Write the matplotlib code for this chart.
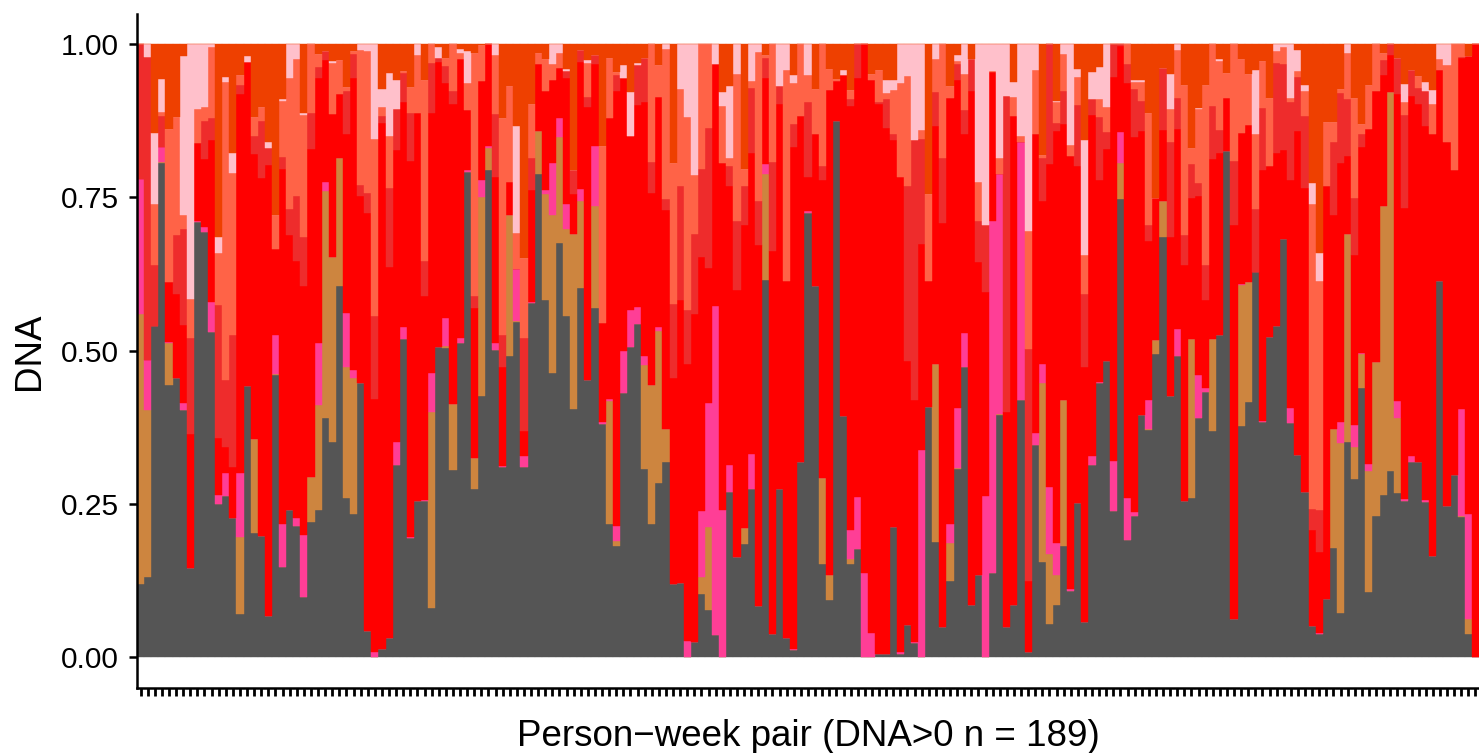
import numpy as np
import matplotlib
matplotlib.use("Agg")
import matplotlib.pyplot as plt

plt.rcParams['font.family'] = ['Liberation Sans', 'DejaVu Sans']

# Share of each component per person-week pair (bottom to top of each bar)
grey_share = [
    .12, .13, .54, .805, .445, .456, .403, .145, .711, .695,
    .531, .25, .263, .227, .071, .443, .202, .198, .068, .46,
    .147, .241, .215, .099, .221, .241, .391, .351, .606, .26,
    .234, .448, .043, 0, .013, .032, .314, .519, .195, .255,
    .255, .08, .506, .505, .305, .513, .791, .275, .426, .794,
    .502, .31, .492, .547, .31, .578, .788, .583, .464, .675,
    .556, .405, .603, .452, .569, .381, .218, .181, .431, .506,
    .544, .307, .218, .284, .318, .119, .122, 0, .025, .103,
    .078, .036, 0, .269, .164, .185, .275, .083, .616, .038,
    .275, .031, .012, .318, .725, .606, .153, .093, .875, .394,
    .153, .176, 0, 0, .006, .005, .212, .006, .052, .023,
    0, .409, .188, .049, .125, .307, .474, .086, .135, 0,
    .138, .395, .049, .086, .419, .008, .346, .156, .054, .085,
    .182, .109, .251, .057, .314, .447, .484, .238, .747, .192,
    .231, .396, .37, .495, .686, .426, .492, .255, .26, .39,
    .432, .369, .525, .825, .062, .377, .416, .629, .383, .523,
    .541, .682, .382, .33, .269, .051, .038, .095, .179, .073,
    .351, .291, .44, .107, .231, .265, .304, .268, .255, .319,
    .319, .254, .166, .614, .247, .297, .229, .038, 0,
]
peru_share = [
    .44, .27, 0, .002, .069, 0, 0, 0, 0, 0,
    0, 0, 0, 0, .126, 0, .154, 0, 0, .002,
    0, 0, 0, 0, .073, .171, .37, .302, .208, .214,
    .221, 0, 0, 0, 0, 0, 0, 0, 0, 0,
    0, .32, 0, .002, .108, 0, 0, .05, .324, .036,
    0, 0, .229, .002, 0, 0, .07, .172, .258, .174,
    .143, .285, .142, 0, .167, 0, .20, .008, 0, 0,
    0, .17, .226, .248, .055, 0, 0, 0, 0, .028,
    .134, 0, 0, 0, 0, .026, 0, 0, .172, 0,
    0, 0, 0, 0, 0, 0, .139, .042, 0, 0,
    .008, 0, 0, 0, 0, 0, 0, 0, 0, 0,
    0, 0, .291, 0, .061, .002, 0, 0, 0, 0,
    0, .002, 0, 0, 0, 0, 0, .291, .115, .049,
    .237, 0, 0, 0, 0, 0, 0, 0, .06, 0,
    0, 0, .002, .023, .059, 0, 0, 0, .259, 0,
    0, .15, 0, 0, 0, .23, .196, 0, 0, 0,
    0, 0, 0, 0, 0, 0, 0, 0, .193, .276,
    .339, .052, .054, .197, .25, .471, .618, .122, 0, 0,
    0, 0, 0, 0, 0, 0, .002, .024, 0,
]
hotpink_share = [
    .22, .08, 0, .025, .002, 0, .011, 0, .002, .007,
    .049, .015, .037, 0, .104, 0, 0, 0, 0, .064,
    .07, 0, .012, .10, 0, .101, .014, 0, 0, .088,
    .013, 0, 0, .008, 0, 0, .038, .02, .002, 0,
    .002, .063, 0, .046, 0, .007, .003, 0, .029, .004,
    .01, .002, 0, .085, .018, .002, 0, .007, .085, .03,
    .04, 0, .018, 0, .098, .002, .003, .026, .068, .061,
    .028, .015, 0, .007, 0, 0, 0, .026, 0, .107,
    .202, .537, .24, .045, 0, 0, .056, 0, .016, 0,
    0, 0, .002, 0, .003, 0, 0, 0, 0, 0,
    .047, .086, .138, .039, 0, 0, 0, .002, 0, .002,
    .338, 0, 0, 0, .032, .097, .055, 0, 0, .263,
    .574, .391, 0, 0, .421, 0, .02, .032, .109, .052,
    0, .002, 0, 0, .014, .002, 0, .083, .05, .068,
    .006, 0, .047, 0, 0, 0, .044, 0, 0, .071,
    .008, 0, 0, 0, 0, .002, 0, 0, .002, 0,
    0, 0, .024, 0, 0, 0, .002, 0, 0, .034,
    0, .036, .003, .011, 0, 0, 0, .028, .003, .01,
    0, .002, 0, 0, 0, 0, .174, .172, 0,
]
red_share = [
    0, 0, 0, 0, .098, .137, .128, .219, .128, .112,
    .264, .092, .043, .083, .618, .528, .465, .583, .735, .14,
    .58, .447, .42, .406, .535, .432, .199, .233, .104, .291,
    .476, .304, .682, .413, .859, .605, .476, .367, .613, .633,
    .333, .425, .465, .384, .49, .455, .099, .244, .161, .166,
    .272, .161, .055, 0, .041, .182, .11, .161, .134, .082,
    .206, .065, .208, .446, .134, .163, .458, .709, .446, .284,
    .329, .413, .314, .375, .356, .337, .46, .453, .535, .415,
    .221, .395, .567, .454, .435, .494, .492, .59, .141, .625,
    .628, .583, .819, .565, .056, .248, .487, .79, .065, .556,
    .691, .683, .862, .903, .897, .859, .632, .776, .432, .394,
    .336, .205, .387, .659, .695, .536, .324, .838, .509, .332,
    .243, 0, .351, .797, 0, .116, .488, .266, .527, .673,
    .451, .707, .55, .416, .557, .33, .345, .626, .14, .677,
    .611, .463, .26, .231, .115, .259, .326, .385, .23, .291,
    .143, .293, .298, .087, .643, .246, .256, 0, .409, .278,
    .282, .145, .372, .529, .496, .157, .131, .674, .349, .424,
    .127, .277, .336, .547, .442, .214, .06, .50, .474, .587,
    .584, .611, .687, .344, .593, .497, .572, .747, 1.0,
]
firebrick_share = [
    .22, .49, .10, .05, 0, .096, .157, .156, 0, .061,
    .036, .218, .109, .216, .015, 0, .029, .094, .027, 0,
    .019, .043, .106, .081, .059, .018, .015, 0, 0, .071,
    .04, .019, .033, .135, .011, .128, .066, .047, .078, 0,
    .057, .081, .006, .027, .021, 0, 0, .021, 0, 0,
    .102, .053, 0, 0, .151, .053, 0, 0, 0, 0,
    .011, .039, .019, .016, .015, 0, 0, .026, 0, 0,
    .065, .072, .05, 0, .018, .121, .186, .087, .13, .144,
    .229, 0, 0, .034, .112, .063, .106, .072, .032, .145,
    .028, 0, .036, 0, .122, 0, .023, 0, 0, 0,
    .012, .055, 0, 0, .003, .047, .009, 0, .284, .424,
    .172, 0, .056, .106, 0, .026, .039, .051, .068, .11,
    0, 0, .516, 0, 0, .379, 0, .07, .195, .012,
    .054, 0, .10, .119, .026, .102, .028, .053, .003, .031,
    .079, .049, .026, 0, .101, .156, .05, .049, .055, .021,
    .057, .087, .037, 0, .105, 0, 0, .102, .102, 0,
    .146, .141, .127, .088, .118, .034, .069, 0, .12, .114,
    .094, .093, .021, 0, 0, .024, .018, .059, .153, .042,
    .026, .057, 0, 0, 0, 0, .002, 0, 0,
]
tomato_share = [
    0, 0, .10, .007, .25, .192, .022, .065, .055, .023,
    .115, .084, .486, .264, .016, 0, .031, .023, 0, .055,
    .092, .213, .223, .199, .112, .021, 0, .083, .056, .006,
    .005, .219, .231, .29, .015, .086, 0, .003, .042, .094,
    .295, .031, 0, .013, .076, .011, .044, .396, .059, 0,
    .096, .353, .155, .058, .131, .088, .018, .052, .026, .025,
    0, 0, 0, .055, 0, .288, .098, .005, 0, 0,
    0, 0, .192, .052, .245, .23, .159, .316, .096, .203,
    .136, 0, .092, .013, .24, .029, .011, .242, .005, .192,
    0, .344, .067, .117, .044, .073, .198, .035, .003, 0,
    .014, 0, 0, .009, .052, .01, .072, .152, .18, 0,
    .014, .142, .054, .186, .019, .005, .059, 0, .064, 0,
    .002, .027, 0, .031, .011, .192, .104, .005, 0, .034,
    .06, .018, .046, .064, 0, .03, .04, 0, 0, .032,
    .012, .03, .183, 0, 0, .054, .078, .245, .027, .121,
    .294, .101, .113, .041, .19, .121, .083, .123, .077, .111,
    .02, .027, .007, .01, .041, .497, .374, .104, .032, .006,
    .075, .163, .015, .072, .077, .012, 0, 0, .02, 0,
    .019, 0, .05, .018, .126, .206, .021, 0, 0,
]
pink_share = [
    0, .02, .115, .054, 0, 0, .259, .415, .106, .103,
    .005, .027, .009, .033, 0, .01, 0, 0, .011, 0,
    .002, .056, .024, .002, 0, 0, 0, .004, 0, 0,
    0, .01, .011, .154, .029, .102, .048, 0, 0, .018,
    0, 0, .018, 0, 0, .006, .052, 0, 0, 0,
    .018, 0, 0, .175, 0, 0, 0, 0, .033, .014,
    .004, 0, 0, .005, 0, 0, 0, 0, .021, .071,
    .004, 0, 0, 0, .008, 0, .073, .118, .214, 0,
    0, .032, .023, .117, .049, 0, .06, .013, 0, 0,
    .069, .042, .014, 0, .05, 0, 0, 0, 0, .008,
    0, 0, 0, 0, 0, .021, .017, .064, .052, .157,
    .14, 0, .024, 0, 0, .009, .049, 0, .224, .295,
    .043, .185, .084, .024, .149, .305, .042, 0, 0, .002,
    .016, .164, .013, .188, .044, .052, .103, 0, 0, 0,
    .002, .003, 0, 0, 0, .056, .01, 0, 0, .002,
    0, 0, .002, 0, 0, 0, 0, .104, 0, 0,
    .011, .005, .088, .034, .01, .034, .045, 0, 0, 0,
    .014, 0, 0, 0, 0, 0, 0, 0, .03, 0,
    0, .014, .022, .024, .034, 0, 0, 0, 0,
]
orangered_share = [
    0, 0, .145, .056, .138, .119, .02, 0, 0, 0,
    0, .314, .053, .177, .05, .019, .119, .102, .159, .279,
    .09, 0, 0, .113, 0, .016, .011, .027, .026, .07,
    .011, 0, 0, 0, .073, .047, .058, .044, .07, 0,
    .058, 0, .005, .023, 0, .008, .011, .014, .001, 0,
    0, .121, .069, .133, .349, .097, .014, .025, 0, 0,
    .04, .206, .01, .026, .017, .166, .023, .045, .034, .078,
    .03, .023, 0, .034, 0, .193, 0, 0, 0, 0,
    0, 0, .078, .068, 0, .203, 0, 0, .018, 0,
    0, 0, .05, 0, 0, .073, 0, .04, .057, .042,
    .075, 0, 0, .049, .042, .058, .058, 0, 0, 0,
    0, .244, 0, 0, .068, .018, 0, .025, 0, 0,
    0, 0, 0, .062, 0, 0, 0, .18, 0, .093,
    0, 0, .04, .156, .045, .037, 0, 0, 0, 0,
    .059, .059, .112, .251, .039, .049, 0, .066, .169, .104,
    .066, 0, .025, .047, 0, .024, .049, .042, .027, .088,
    0, 0, 0, .009, .066, .227, .341, .127, .127, .073,
    0, .088, .131, .066, 0, .014, 0, .023, .065, .042,
    .052, .062, .075, 0, 0, 0, 0, .019, 0,
]

y_ticks = [0, 0.25, 0.5, 0.75, 1.0]
y_tick_labels = ["0.00", "0.25", "0.50", "0.75", "1.00"]
x_title = "Person\u2212week pair (DNA>0 n = 189)"
y_title = "DNA"

layers = [grey_share, peru_share, hotpink_share, red_share,
          firebrick_share, tomato_share, pink_share, orangered_share]
colors = ["#555555", "#CD853F", "#FF3E96", "#FF0000",
          "#EE2C2C", "#FF6347", "#FFC0CB", "#EE4000"]

stack = np.array(layers, dtype=float)
stack = stack / stack.sum(axis=0)  # filled bars: each pair sums to 1
n = stack.shape[1]
x = np.arange(n)

W, H = 1479, 753
fig = plt.figure(figsize=(W / 100, H / 100), dpi=100)
ax = fig.add_axes([137 / W, 65 / H, (W - 137) / W, 674.5 / H])

bottom = np.zeros(n)
for vals, col in zip(stack, colors):
    ax.bar(x, vals, bottom=bottom, width=1.0, color=col,
           edgecolor=col, linewidth=0.3, align="center")
    bottom += vals

ax.set_xlim(-0.5, n - 0.5)
ax.set_ylim(-0.05, 1.05)

for side in ("top", "right"):
    ax.spines[side].set_visible(False)
for side in ("left", "bottom"):
    ax.spines[side].set_linewidth(1.8)
    ax.spines[side].set_color("black")

ax.set_yticks(y_ticks)
ax.set_yticklabels(y_tick_labels)
ax.set_xticks(x)
ax.set_xticklabels([])
ax.tick_params(axis="y", length=6, width=1.8, pad=7, labelsize=21.5,
               colors="black")
ax.tick_params(axis="x", length=6, width=2.0, colors="black")

ax.set_xlabel(x_title, fontsize=26.5, labelpad=13)
ax.set_ylabel(y_title, fontsize=26.5, labelpad=10)

fig.savefig("out.png", dpi=100)
